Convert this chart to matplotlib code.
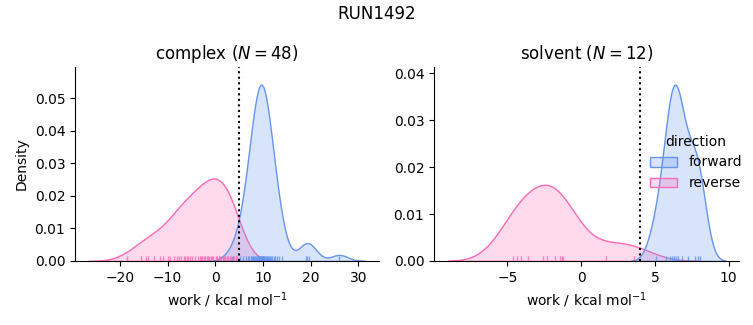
import numpy as np
import matplotlib
matplotlib.use("Agg")
import matplotlib.pyplot as plt
from matplotlib.patches import Patch
from matplotlib.colors import to_rgba

# work values (kcal/mol) per phase and direction
complex_forward = [3.5, 5.2, 5.9, 6.4, 6.8, 7.1, 7.4, 7.6, 7.8, 8.0, 8.2, 8.4,
                   8.5, 8.7, 8.8, 9.0, 9.1, 9.2, 9.3, 9.4, 9.45, 9.5, 9.6, 9.7,
                   9.8, 9.9, 10.0, 10.1, 10.2, 10.3, 10.5, 10.6, 10.8, 10.9, 11.1, 11.3,
                   11.5, 11.7, 11.9, 12.2, 12.5, 12.9, 13.3, 13.9, 19.0, 19.3, 19.7, 26.0]
complex_reverse = [-18.4, -15.5, -14.6, -14.2, -12.8, -11.5, -10.9, -10.0, -9.4,
                   -8.6, -8.1, -7.7, -7.2, -6.6, -6.3, -6.0, -5.8, -5.3, -4.8, -4.2, -3.7,
                   -3.3, -3.0, -2.7, -2.45, -2.1, -1.8, -1.55, -1.25, -1.0, -0.7, -0.4,
                   0.2, 0.45, 0.7, 1.0, 1.3, 1.6, 1.9, 2.1, 2.4, 2.7, 3.0, 3.3, 3.7, 4.0, 4.3, 4.6]
solvent_forward = [5.07, 5.75, 6.0, 6.15, 6.3, 6.45, 6.6, 6.85, 7.23, 7.7, 7.91, 8.09]
solvent_reverse = [-4.59, -4.32, -4.09, -3.57, -2.55, -2.32, -1.75, -1.41, -1.30, -1.23, 1.66, 3.59]

free_energy = {"complex": 5.0, "solvent": 3.97}
run_name = "RUN1492"

colors = {"forward": "cornflowerblue", "reverse": "hotpink"}
phases = {
    "complex": {"forward": complex_forward, "reverse": complex_reverse},
    "solvent": {"forward": solvent_forward, "reverse": solvent_reverse},
}
n_total = sum(len(v) for p in phases.values() for v in p.values())


def kde_curve(values, cut=3, gridsize=200):
    x = np.asarray(values, float)
    n = len(x)
    bw = x.std(ddof=1) * n ** (-1 / 5)
    grid = np.linspace(x.min() - cut * bw, x.max() + cut * bw, gridsize)
    dens = np.exp(-0.5 * ((grid[:, None] - x[None, :]) / bw) ** 2).sum(1)
    dens /= n * bw * np.sqrt(2 * np.pi)
    return grid, dens * n / n_total


fig = plt.figure(figsize=(7.53, 3.25), dpi=100)
axes = [fig.add_axes([0.0996, 0.197, 0.4037, 0.597]),
        fig.add_axes([0.5764, 0.197, 0.405, 0.597])]

for ax, (phase, data) in zip(axes, phases.items()):
    lo, hi, top = np.inf, -np.inf, 0
    for direction in ["reverse", "forward"]:
        c = colors[direction]
        grid, dens = kde_curve(data[direction])
        ax.fill_between(grid, 0, dens, facecolor=to_rgba(c, 0.25), edgecolor=c, linewidth=1)
        lo, hi, top = min(lo, grid[0]), max(hi, grid[-1]), max(top, dens.max())
    for direction in ["forward", "reverse"]:
        ax.vlines(data[direction], 0, 0.025, color=colors[direction], linewidth=1,
                  alpha=0.8, transform=ax.get_xaxis_transform())
    ax.axvline(free_energy[phase], color="k", linestyle=":", linewidth=1.5)
    span = hi - lo
    ax.set_xlim(lo - 0.05 * span, hi + 0.05 * span)
    ax.set_ylim(0, top * 1.1)
    n = len(data["forward"])
    ax.set_title(f"{phase} ($N = {n}$)")
    ax.set_xlabel("work / kcal mol$^{-1}$")
    ax.spines[["top", "right"]].set_visible(False)

axes[0].set_ylabel("Density")
fig.suptitle(run_name, y=0.985)

handles = [Patch(facecolor=to_rgba(colors[d], 0.25), edgecolor=colors[d], linewidth=1)
           for d in ["forward", "reverse"]]
fig.legend(handles, ["forward", "reverse"], title="direction", frameon=False,
           loc="center left", bbox_to_anchor=(0.846, 0.5))

fig.savefig("out.png", dpi=100)
